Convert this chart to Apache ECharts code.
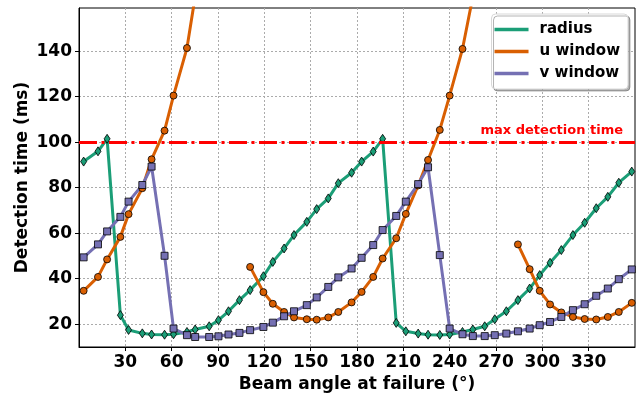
<!DOCTYPE html>
<html>
<head>
<meta charset="utf-8">
<script src="https://cdn.jsdelivr.net/npm/echarts@6/dist/echarts.min.js"></script>
<style>
  html, body { margin: 0; padding: 0; background: #fff; }
  #chart { width: 640px; height: 394px; }
</style>
</head>
<body>
<div id="chart"></div>
<script>
// beam angle at failure (deg), shared by all three series
const angles = [
  3.0, 12.3, 18.2, 26.8, 32.1, 41.0, 47.0, 55.4, 61.2, 69.9,
  75.2, 84.3, 90.3, 96.8, 103.9, 110.8, 119.4, 125.5, 132.8, 139.2,
  147.5, 153.9, 161.4, 167.9, 176.5, 183.0, 190.5, 196.6, 205.4, 211.6,
  219.6, 226.0, 233.6, 240.0, 248.3, 255.0, 262.7, 269.2, 276.7, 284.2,
  291.8, 298.3, 305.0, 312.3, 319.8, 327.4, 334.9, 342.4, 349.5, 357.9,
]
// detection time (ms), null where the series has no point
const radius = [
  91.5, 96.0, 101.5, 24.0, 17.5, 16.0, 15.5, 15.4, 15.6, 16.6,
  17.7, 19.1, 21.8, 25.7, 30.6, 35.0, 41.1, 47.4, 53.3, 59.2,
  65.0, 70.6, 75.3, 82.0, 86.6, 91.5, 95.9, 101.5, 20.6, 16.9,
  15.9, 15.4, 15.3, 15.5, 16.6, 17.7, 19.1, 22.2, 25.7, 30.6,
  35.7, 41.6, 47.0, 52.6, 59.2, 64.6, 71.0, 76.0, 82.2, 87.1,
]
const uWindow = [
  34.7, 40.8, 48.5, 58.4, 68.4, 79.8, 92.5, 105.1, 120.5, 141.4,
  164.0, null, null, null, null, 45.2, 34.1, 29.0, 25.4, 23.0,
  22.2, 22.0, 23.0, 25.4, 29.6, 34.2, 40.8, 48.9, 57.8, 68.5,
  81.0, 92.2, 105.4, 120.5, 141.0, 164.0, null, null, null, 55.1,
  44.2, 34.7, 28.7, 25.2, 23.2, 22.3, 22.1, 23.2, 25.4, 29.4,
]
const vWindow = [
  49.4, 55.1, 60.8, 67.2, 73.9, 81.2, 89.3, 50.1, 18.1, 15.2,
  14.4, 14.4, 14.7, 15.5, 16.2, 17.4, 18.8, 20.7, 23.5, 25.7,
  28.4, 31.8, 36.4, 40.6, 44.5, 49.2, 54.8, 61.4, 67.6, 73.9,
  81.6, 89.0, 50.4, 18.1, 15.6, 14.8, 14.8, 15.2, 15.9, 16.9,
  18.1, 19.6, 21.0, 23.2, 26.2, 28.8, 32.5, 35.7, 39.8, 44.1,
]
const xTicks = [30, 60, 90, 120, 150, 180, 210, 240, 270, 300, 330]
const yTicks = [20, 40, 60, 80, 100, 120, 140]
const maxDetectionTime = 100

const font = 'DejaVu Sans'

function pairs(values) {
  return angles.map((a, i) => [a, values[i] == null ? '-' : values[i]])
}

function lineSeries(name, values, color, symbol, symbolSize) {
  return {
    name,
    type: 'line',
    data: pairs(values),
    color,
    symbol,
    symbolSize,
    showAllSymbol: true,
    clip: true,
    lineStyle: { width: 3, color },
    itemStyle: { color, borderColor: '#000', borderWidth: 0.8 },
    emphasis: { disabled: true },
    animation: false,
  }
}

const chart = echarts.init(document.getElementById('chart'), null, { renderer: 'canvas' })

chart.setOption({
  animation: false,
  textStyle: { fontFamily: font },
  grid: {
    left: 79,
    right: 5,
    top: 8,
    bottom: 47,
    containLabel: false,
    outerBoundsMode: 'none',
    show: true,
    borderColor: '#000',
    borderWidth: 1,
    backgroundColor: 'transparent',
  },
  legend: {
    data: ['radius', 'u window', 'v window'],
    orient: 'vertical',
    right: 12,
    top: 14,
    icon: 'rect',
    itemWidth: 34,
    itemHeight: 3.5,
    itemGap: 7,
    padding: [8, 8, 8, 3],
    backgroundColor: '#fff',
    borderColor: '#d8d8d8',
    borderWidth: 1,
    borderRadius: 4,
    shadowColor: 'rgba(0,0,0,0.3)',
    shadowOffsetX: 2,
    shadowOffsetY: 2,
    shadowBlur: 0,
    itemStyle: { borderWidth: 0 },
    selectedMode: false,
    textStyle: {
      fontFamily: font,
      fontWeight: 'bold',
      fontSize: 15,
      color: '#000',
      padding: [0, 0, 0, 6],
    },
  },
  xAxis: {
    type: 'value',
    min: 0,
    max: 360,
    name: 'Beam angle at failure (°)',
    nameLocation: 'middle',
    nameGap: 29,
    nameMoveOverlap: false,
    nameTextStyle: { fontFamily: font, fontWeight: 'bold', fontSize: 17, color: '#000' },
    axisLine: { show: true, lineStyle: { color: '#000', width: 1 } },
    axisTick: { show: true, length: 4, customValues: xTicks, lineStyle: { color: '#000' } },
    axisLabel: {
      customValues: xTicks,
      margin: 7,
      fontFamily: font,
      fontWeight: 'bold',
      fontSize: 17,
      color: '#000',
    },
    splitLine: { show: true, lineStyle: { color: '#ababab', type: [2, 2], width: 1 } },
  },
  yAxis: {
    type: 'value',
    min: 10,
    max: 159,
    name: 'Detection time (ms)',
    nameLocation: 'middle',
    nameGap: 48,
    nameMoveOverlap: false,
    nameTextStyle: { fontFamily: font, fontWeight: 'bold', fontSize: 17, color: '#000' },
    axisLine: { show: true, lineStyle: { color: '#000', width: 1 } },
    axisTick: { show: true, length: 4, customValues: yTicks, lineStyle: { color: '#000' } },
    axisLabel: {
      customValues: yTicks,
      margin: 7,
      fontFamily: font,
      fontWeight: 'bold',
      fontSize: 17,
      color: '#000',
    },
    splitLine: { show: true, lineStyle: { color: '#ababab', type: [2, 2], width: 1 } },
  },
  series: [
    {
      name: 'max detection time',
      type: 'line',
      data: [],
      silent: true,
      markLine: {
        silent: true,
        symbol: 'none',
        lineStyle: { color: '#ff0000', width: 3, type: [18, 4.5, 3, 4.5] },
        label: {
          show: true,
          position: 'insideEndTop',
          formatter: 'max detection time',
          color: '#ff0000',
          fontFamily: font,
          fontWeight: 'bold',
          fontSize: 13,
          distance: 5,
          padding: [0, 7, 0, 0],
        },
        data: [{ yAxis: maxDetectionTime }],
      },
    },
    lineSeries('radius', radius, '#1b9e77', 'diamond', [6, 9]),
    lineSeries('u window', uWindow, '#d95f02', 'circle', 7),
    lineSeries('v window', vWindow, '#7570b3', 'rect', 7),
  ],
})
</script>
</body>
</html>
